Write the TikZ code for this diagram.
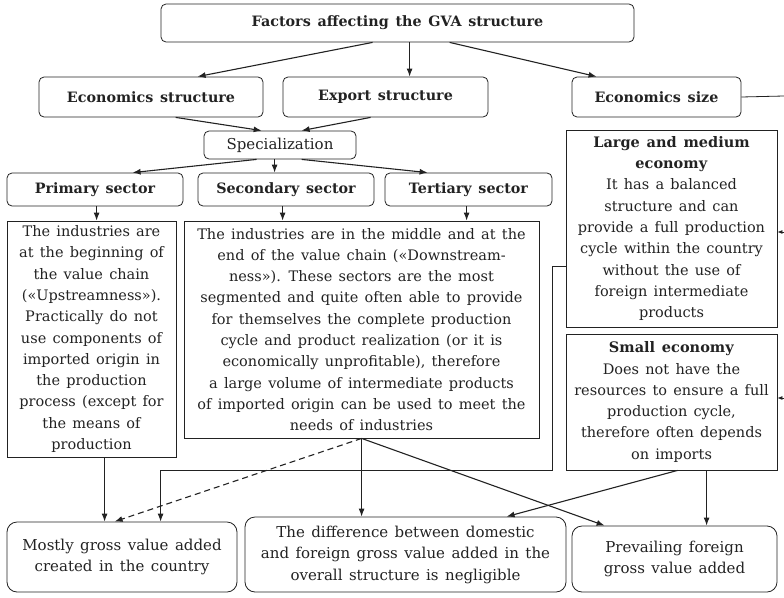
\documentclass[tikz,border=0pt]{standalone}
\usepackage{fontspec}
\setmainfont{DejaVu Serif}[WordSpace=1.35]
\usetikzlibrary{arrows.meta}
\definecolor{ink}{HTML}{222222}
\tikzset{
  box/.style={draw=ink, line width=0.8pt, text=ink, inner sep=0pt, align=center, anchor=center},
  rbox/.style={box, rounded corners=5pt},
  rbbox/.style={box, rounded corners=10pt},
  hdr/.style={font=\fontsize{14.3}{17}\selectfont\bfseries},
  body/.style={font=\fontsize{14.5}{21.3}\selectfont},
  bodyb/.style={font=\fontsize{15}{21.5}\selectfont},
  conn/.style={draw=ink, line width=1.1pt, -{Latex[length=8pt,width=6pt]}},
  plain/.style={draw=ink, line width=0.8pt}
}
\begin{document}
\begin{tikzpicture}[x=1pt,y=-1pt]
\useasboundingbox (0,0) rectangle (784,597);
% headers
\node[rbox,hdr,minimum width=473pt,minimum height=38pt] (top) at (397.5,23) {Factors affecting the GVA structure};
\node[rbox,hdr,minimum width=224pt,minimum height=40pt] (econ) at (151,97) {Economics structure};
\node[rbox,hdr,minimum width=205pt,minimum height=40pt] (exp) at (385.5,97) {Export structure};
\node[rbox,hdr,minimum width=169pt,minimum height=40pt] (size) at (656.5,97) {Economics size};
\node[rbox,font=\fontsize{15}{18}\selectfont,minimum width=152pt,minimum height=28pt] (spec) at (280,145) {Specialization};
\node[rbox,hdr,minimum width=176pt,minimum height=33pt] (prim) at (95,189.5) {Primary sector};
\node[rbox,hdr,minimum width=176pt,minimum height=33pt] (sec) at (286,189.5) {Secondary sector};
\node[rbox,hdr,minimum width=167pt,minimum height=33pt] (tert) at (468.5,189.5) {Tertiary sector};
% text boxes
\node[box,body,minimum width=169pt,minimum height=236pt] (primbox) at (91.5,339) {The industries are\\at the beginning of\\the value chain\\(«Upstreamness»).\\Practically do not\\use components of\\imported origin in\\the production\\process (except for\\the means of\\production};
\node[box,body,minimum width=355pt,minimum height=217pt] (secbox) at (361.5,329.5) {The industries are in the middle and at the\\end of the value chain («Downstream-\\ness»). These sectors are the most\\segmented and quite often able to provide\\for themselves the complete production\\cycle and product realization (or it is\\economically unprofitable), therefore\\a large volume of intermediate products\\of imported origin can be used to meet the\\needs of industries};
\node[box,body,minimum width=211pt,minimum height=197pt] (large) at (671.5,228.5) {\textbf{Large and medium}\\\textbf{economy}\\It has a balanced\\structure and can\\provide a full production\\cycle within the country\\without the use of\\foreign intermediate\\products};
\node[box,body,minimum width=211pt,minimum height=136pt] (small) at (671.5,402) {\textbf{Small economy}\\Does not have the\\resources to ensure a full\\production cycle,\\therefore often depends\\on imports};
% bottom boxes
\node[rbbox,bodyb,minimum width=230pt,minimum height=70pt] (mostly) at (122,557) {Mostly gross value added\\created in the country};
\node[rbbox,bodyb,minimum width=321pt,minimum height=75pt] (diff) at (405.5,554.5) {The difference between domestic\\and foreign gross value added in the\\overall structure is negligible};
\node[rbbox,bodyb,minimum width=205pt,minimum height=66pt] (prev) at (674.5,559) {Prevailing foreign\\gross value added};
% connectors top
\draw[conn] ([xshift=212pt]top.south west) -- ([xshift=159pt]econ.north west);
\draw[conn] ([xshift=249pt]top.south west) -- ([xshift=127pt]exp.north west);
\draw[conn] ([xshift=289pt]top.south west) -- ([xshift=25pt]size.north west);
\draw[conn] ([xshift=137pt]econ.south west) -- ([xshift=58pt]spec.north west);
\draw[conn] ([xshift=88pt]exp.south west) -- ([xshift=98pt]spec.north west);
\draw[conn] ([xshift=53pt]spec.south west) -- ([xshift=126pt]prim.north west);
\draw[conn] ([xshift=71pt]spec.south west) -- ([xshift=77pt]sec.north west);
\draw[conn] ([xshift=98pt]spec.south west) -- ([xshift=43pt]tert.north west);
\draw[conn] ([xshift=90pt]prim.south west) -- ([xshift=90pt]primbox.north west);
\draw[conn] ([xshift=85pt]sec.south west) -- ([xshift=99pt]secbox.north west);
\draw[conn] ([xshift=82pt]tert.south west) -- ([xshift=283pt]secbox.north west);
% economics size bracket
\coordinate (r1) at (784,96);
\coordinate (r2) at (784,232);
\coordinate (r3) at (784,398);
\draw[plain] (size.east) -- (r1);
\draw[draw=ink, line width=0.8pt, -{Latex[length=5pt,width=4pt]}] (r2) -- (large.east |- r2);
\draw[draw=ink, line width=0.8pt, -{Latex[length=5pt,width=4pt]}] (r3) -- (small.east |- r3);
% large -> mostly
\coordinate (bend) at (552,470);
\draw[plain, -{Latex[length=8pt,width=6pt]}, line width=1pt] ([yshift=61pt]large.south west) -| (bend) -| ([xshift=154pt]mostly.north west);
% bottom connectors
\draw[conn] ([xshift=98pt]primbox.south west) -- ([xshift=98pt]mostly.north west);
\draw[conn, dashed, dash pattern=on 6pt off 4pt] ([xshift=178pt]secbox.south west) -- ([xshift=108pt]mostly.north west);
\draw[conn] ([xshift=178pt]secbox.south west) -- ([xshift=117pt]diff.north west);
\draw[conn] ([xshift=178pt]secbox.south west) -- ([xshift=33pt]prev.north west);
\draw[conn] ([xshift=112pt]small.south west) -- ([xshift=262pt]diff.north west);
\draw[conn] ([xshift=141pt]small.south west) -- ([xshift=135pt]prev.north west);
\end{tikzpicture}
\end{document}
